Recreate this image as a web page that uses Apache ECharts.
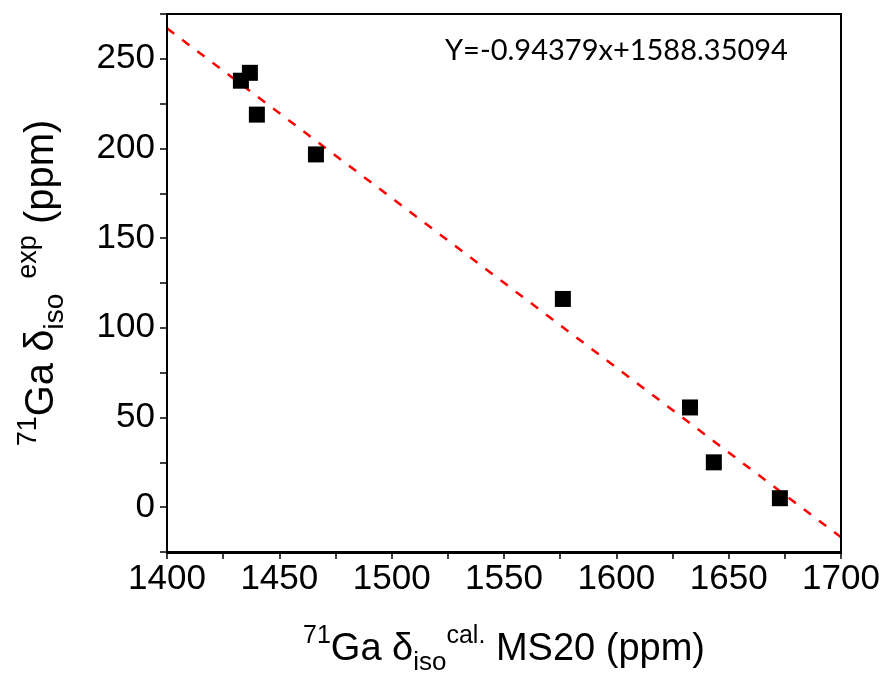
<!DOCTYPE html>
<html>
<head>
<meta charset="utf-8">
<script src="https://cdn.jsdelivr.net/npm/echarts@6/dist/echarts.min.js"></script>
<style>html,body{margin:0;padding:0;background:#fff}#c{width:887px;height:681px}</style>
</head>
<body>
<div id="c"></div>
<script>
const calcShift = [1432.9, 1436.9, 1440.0, 1466.3, 1576.2, 1632.8, 1643.4, 1672.8];
const expShift  = [237.8, 242.2, 218.9, 196.7, 116.1, 55.6, 25.0, 5.0];
const fitX = [1400, 1700];
const fitY = [267.04, -16.79];
const xTicks = [1400, 1450, 1500, 1550, 1600, 1650, 1700];
const yTicks = [0, 50, 100, 150, 200, 250];
const equationText = 'Y=-0.94379x+1588.35094';

const chart = echarts.init(document.getElementById('c'));
const FF = 'Liberation Sans, Arial, sans-serif';
const axisFont = {color:'#000', fontSize:35, fontFamily:FF};
function rich(m, s, lh) {
  return {
    m:{fontSize:m, fontFamily:FF, color:'#000', lineHeight:lh},
    sup:{fontSize:s, fontFamily:FF, color:'#000', verticalAlign:'top', lineHeight:lh, padding:[0,0,Math.round(m*0.5),0]},
    sub:{fontSize:s+1, fontFamily:FF, color:'#000', verticalAlign:'bottom', lineHeight:lh, padding:[Math.round(m*0.38),0,0,0]}
  };
}
chart.setOption({
  animation:false,
  grid:{left:167, right:46, top:14, bottom:128},
  xAxis:{
    type:'value', min:1400, max:1700, interval:25,
    axisLine:{show:true, onZero:false, lineStyle:{color:'#000', width:2}},
    axisTick:{show:true, inside:false, length:7, lineStyle:{color:'#000', width:1.5}},
    splitLine:{show:false},
    axisLabel:Object.assign({margin:10, showMinLabel:true, showMaxLabel:true, interval:0,
      formatter:v => xTicks.includes(v) ? String(v) : ''}, axisFont),
    name:'{sup|71}{m|Ga δ}{sub|iso}{sup|cal.}{m| MS20 (ppm)}',
    nameLocation:'middle', nameGap:72,
    nameTextStyle:{rich:rich(38, 25, 52)}
  },
  yAxis:{
    type:'value', min:-25, max:275, interval:25,
    axisLine:{show:true, onZero:false, lineStyle:{color:'#000', width:2}},
    axisTick:{show:true, inside:false, length:7, lineStyle:{color:'#000', width:1.5}},
    splitLine:{show:false},
    axisLabel:Object.assign({margin:12, interval:0, formatter:v => yTicks.includes(v) ? String(v) : ''}, axisFont),
    name:'{sup|71}{m|Ga δ}{sub|iso}{sup|  exp}{m| (ppm)}',
    nameLocation:'middle', nameGap:98, nameRotate:90,
    nameTextStyle:{rich:rich(40, 27, 54)}
  },
  graphic:[
    {type:'rect', shape:{x:167, y:14, width:674, height:539}, style:{fill:'none', stroke:'#000', lineWidth:2}, silent:true, z:100},
    {type:'text', left:445, top:36, style:{text:equationText, fontSize:29, fontFamily:'Lato, Open Sans, sans-serif', fill:'#000'}}
  ],
  series:[
    {type:'line', data:fitX.map((x,i)=>[x,fitY[i]]), symbol:'none',
     lineStyle:{color:'#ff0000', width:2.5, type:[9,10]}, z:2},
    {type:'scatter', data:calcShift.map((x,i)=>[x,expShift[i]]), symbol:'rect', symbolSize:16,
     itemStyle:{color:'#000', opacity:1}, z:3}
  ]
});
</script>
</body>
</html>
